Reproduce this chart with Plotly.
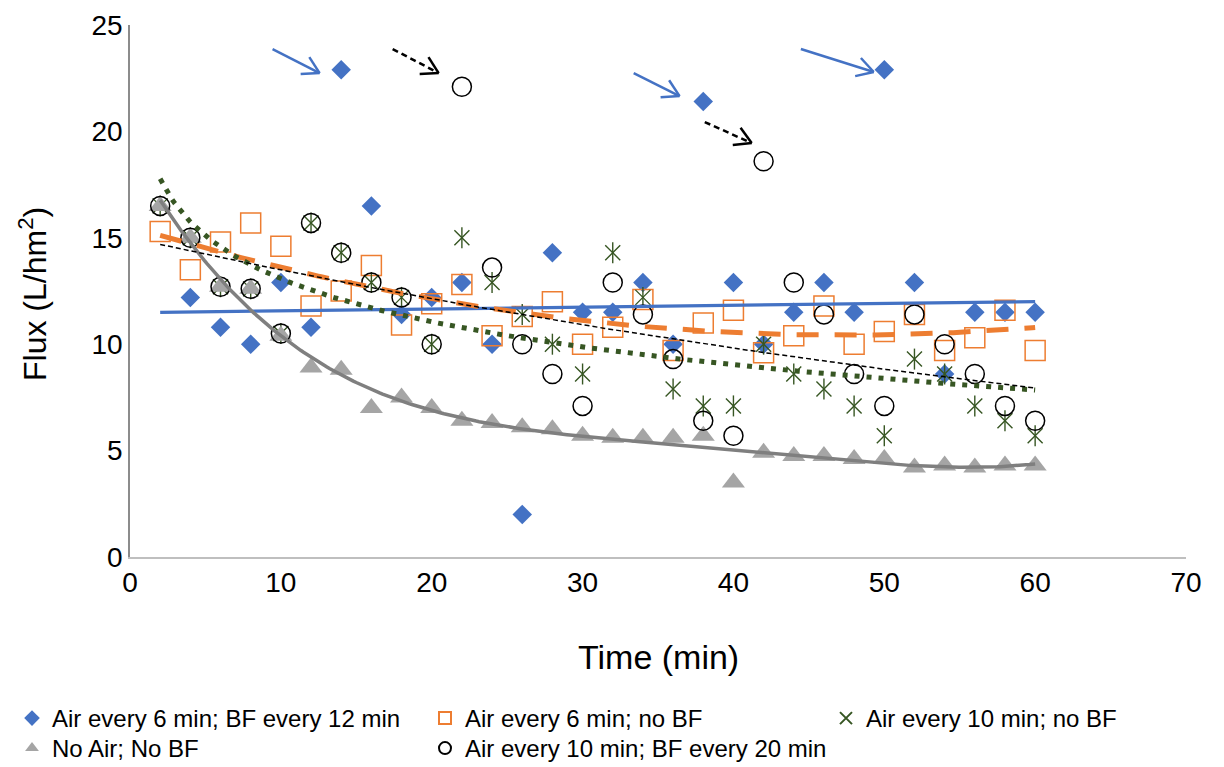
import numpy as np
import plotly.graph_objects as go

# ---------------- data ----------------
time_min = list(range(2, 62, 2))          # 2 .. 60 min
time_diamond = list(range(4, 62, 2))      # 4 .. 60 min

flux_air6_bf12 = [12.2, 10.8, 10.0, 12.9, 10.8, 22.9, 16.5, 11.4, 12.2, 12.9,
                  10.0, 2.0, 14.3, 11.5, 11.5, 12.9, 10.0, 21.4, 12.9, 10.0,
                  11.5, 12.9, 11.5, 22.9, 12.9, 8.6, 11.5, 11.5, 11.5]
flux_air6_nobf = [15.3, 13.5, 14.8, 15.7, 14.6, 11.8, 12.5, 13.7, 10.9, 11.9,
                  12.8, 10.4, 11.3, 12.0, 10.0, 10.8, 12.1, 9.7, 11.0, 11.6,
                  9.6, 10.4, 11.8, 10.0, 10.6, 11.4, 9.7, 10.3, 11.6, 9.7]
flux_air10_nobf = [16.5, 15.0, 12.7, 12.6, 10.5, 15.7, 14.3, 12.9, 12.2, 10.0,
                   15.0, 12.9, 11.4, 10.0, 8.6, 14.3, 12.2, 7.9, 7.1, 7.1,
                   10.0, 8.6, 7.9, 7.1, 5.7, 9.3, 8.6, 7.1, 6.4, 5.7]
flux_noair_nobf = [16.5, 15.0, 12.7, 12.6, 10.4, 8.9, 8.8, 7.0, 7.5, 7.0,
                   6.4, 6.3, 6.1, 6.0, 5.7, 5.6, 5.6, 5.6, 5.7, 3.5,
                   4.9, 4.75, 4.75, 4.6, 4.6, 4.2, 4.3, 4.2, 4.3, 4.3]
flux_air10_bf20 = [16.5, 15.0, 12.7, 12.6, 10.5, 15.7, 14.3, 12.9, 12.2, 10.0,
                   22.1, 13.6, 10.0, 8.6, 7.1, 12.9, 11.4, 9.3, 6.4, 5.7,
                   18.6, 12.9, 11.4, 8.6, 7.1, 11.4, 10.0, 8.6, 7.1, 6.4]

# linear trend of the first series, read at its two ends
trend_lin_x = [2, 60]
trend_lin_y = [11.5, 12.0]

series_names = ["Air every 6 min; BF every 12 min", "Air every 6 min; no BF",
                "Air every 10 min; no BF", "No Air; No BF",
                "Air every 10 min; BF every 20 min"]

x_ticks = [0, 10, 20, 30, 40, 50, 60, 70]
y_ticks = [0, 5, 10, 15, 20, 25]
x_title = "Time (min)"
y_title = "Flux (L/hm<sup>2</sup>)"

# arrows pointing at outliers: (x_from, y_from, x_to, y_to, kind)
arrow_list = [(9.45, 23.87, 12.57, 22.74, "blue"),
              (17.41, 23.87, 20.46, 22.74, "black"),
              (33.39, 22.74, 36.43, 21.66, "blue"),
              (38.10, 20.44, 41.21, 19.45, "black"),
              (44.47, 23.87, 49.30, 22.79, "blue")]

# ---------------- styles ----------------
FONT = "Liberation Sans, Arial, sans-serif"
BLUE = "#4472C4"
ORANGE = "#ED7D31"
DKGREEN = "#375623"
GRAY = "#A5A5A5"
DKGRAY = "#7F7F7F"

W, H = 1224, 767
ML, MR, MT, MB = 130, 38, 25, 210
XR = (0, 70)
YR = (0, 25)
PW, PH = W - ML - MR, H - MT - MB
sx = PW / (XR[1] - XR[0])
sy = PH / (YR[1] - YR[0])

fig = go.Figure()

# markers
fig.add_trace(go.Scatter(x=time_diamond, y=flux_air6_bf12, mode="markers",
                         name=series_names[0], legend="legend",
                         marker=dict(symbol="diamond", size=15, color=BLUE,
                                     line=dict(width=0))))
fig.add_trace(go.Scatter(x=time_min, y=flux_air6_nobf, mode="markers",
                         name=series_names[1], legend="legend2",
                         marker=dict(symbol="square-open", size=20, color=ORANGE,
                                     line=dict(width=1.5, color=ORANGE))))
# six-armed star: an X plus a vertical bar
fig.add_trace(go.Scatter(x=time_min, y=flux_air10_nobf, mode="markers",
                         name=series_names[2], legend="legend3",
                         marker=dict(symbol="x-thin-open", size=15, color=DKGREEN,
                                     line=dict(width=1.4, color=DKGREEN))))
fig.add_trace(go.Scatter(x=time_min, y=flux_air10_nobf, mode="markers",
                         showlegend=False, hoverinfo="skip",
                         marker=dict(symbol="line-ns-open", size=15, color=DKGREEN,
                                     line=dict(width=1.4, color=DKGREEN))))
fig.add_trace(go.Scatter(x=time_min, y=flux_noair_nobf, mode="markers",
                         name=series_names[3], legend="legend4",
                         marker=dict(symbol="triangle-up", size=20, color=GRAY,
                                     line=dict(width=0))))
fig.add_trace(go.Scatter(x=time_min, y=flux_air10_bf20, mode="markers",
                         name=series_names[4], legend="legend5",
                         marker=dict(symbol="circle-open", size=19, color="#000000",
                                     line=dict(width=1.5, color="#000000"))))

# trendlines (computed from the series)
t = np.array(time_min, dtype=float)
xs = np.linspace(2, 60, 300)

fig.add_trace(go.Scatter(x=trend_lin_x, y=trend_lin_y, mode="lines", showlegend=False,
                         hoverinfo="skip", line=dict(color=BLUE, width=3.2)))

c2 = np.polyfit(t, np.array(flux_air6_nobf), 2)
fig.add_trace(go.Scatter(x=xs, y=np.polyval(c2, xs), mode="lines", showlegend=False,
                         hoverinfo="skip",
                         line=dict(color=ORANGE, width=5, dash="22px,16px")))

clog = np.polyfit(np.log(t), np.array(flux_air10_nobf), 1)
fig.add_trace(go.Scatter(x=xs, y=np.polyval(clog, np.log(xs)), mode="lines",
                         showlegend=False, hoverinfo="skip",
                         line=dict(color=DKGREEN, width=5, dash="5px,7px")))

cp4 = np.polyfit(t, np.array(flux_noair_nobf), 4)
fig.add_trace(go.Scatter(x=xs, y=np.polyval(cp4, xs), mode="lines",
                         showlegend=False, hoverinfo="skip",
                         line=dict(color=DKGRAY, width=3.5)))

cexp = np.polyfit(t, np.log(np.array(flux_air10_bf20)), 1)
fig.add_trace(go.Scatter(x=xs, y=np.exp(np.polyval(cexp, xs)), mode="lines",
                         showlegend=False, hoverinfo="skip",
                         line=dict(color="#000000", width=1.5, dash="5px,3px")))

# arrows
head_len, head_ang = 19, np.radians(30)
for x0, y0, x1, y1, kind in arrow_list:
    col = BLUE if kind == "blue" else "#000000"
    dash = "solid" if kind == "blue" else "6px,4px"
    fig.add_shape(type="line", xref="x", yref="y", x0=x0, y0=y0, x1=x1, y1=y1,
                  line=dict(color=col, width=2.5, dash=dash))
    dx, dy = (x1 - x0) * sx, (y1 - y0) * sy
    n = np.hypot(dx, dy)
    ux, uy = -dx / n, -dy / n
    for s in (1, -1):
        ca, sa = np.cos(s * head_ang), np.sin(s * head_ang)
        hx = head_len * (ux * ca - uy * sa)
        hy = head_len * (ux * sa + uy * ca)
        fig.add_shape(type="line", xref="x", yref="y", xsizemode="pixel",
                      ysizemode="pixel", xanchor=x1, yanchor=y1,
                      x0=0, y0=0, x1=hx, y1=hy,
                      line=dict(color=col, width=2.5))

# axis titles
fig.add_annotation(text=x_title, xref="paper", yref="paper",
                   x=(658 - ML) / PW, y=(H - MB - 657) / PH,
                   xanchor="center", yanchor="middle", showarrow=False,
                   font=dict(family=FONT, size=34, color="#000000"))
fig.add_annotation(text=y_title, xref="paper", yref="paper",
                   x=(33 - ML) / PW, y=(H - MB - 294) / PH, textangle=-90,
                   xanchor="center", yanchor="middle", showarrow=False,
                   font=dict(family=FONT, size=32, color="#000000"))

leg_common = dict(orientation="v", xref="container", yref="container",
                  yanchor="top", xanchor="left", bgcolor="rgba(0,0,0,0)",
                  font=dict(family=FONT, size=24, color="#000000"),
                  tracegroupgap=0, itemsizing="constant")
row1_top, row2_top = 696, 726
col_x = [12, 425, 826]

fig.update_layout(
    width=W, height=H, autosize=False,
    margin=dict(l=ML, r=MR, t=MT, b=MB, autoexpand=False),
    paper_bgcolor="white", plot_bgcolor="white",
    font=dict(family=FONT, color="#000000"),
    showlegend=True,
    legend=dict(x=col_x[0] / W, y=1 - row1_top / H, **leg_common),
    legend2=dict(x=col_x[1] / W, y=1 - row1_top / H, **leg_common),
    legend3=dict(x=col_x[2] / W, y=1 - row1_top / H, **leg_common),
    legend4=dict(x=col_x[0] / W, y=1 - row2_top / H, **leg_common),
    legend5=dict(x=col_x[1] / W, y=1 - row2_top / H, **leg_common),
    xaxis=dict(range=list(XR), tickvals=x_ticks, showgrid=False, zeroline=False,
               showline=True, linecolor="#BFBFBF", linewidth=1.5, ticks="",
               tickfont=dict(family=FONT, size=28, color="#000000")),
    yaxis=dict(range=list(YR), tickvals=y_ticks, showgrid=False, zeroline=False,
               showline=True, linecolor="#8C8C8C", linewidth=1.5, ticks="",
               tickfont=dict(family=FONT, size=28, color="#000000")),
)

fig.write_html("out.html")
